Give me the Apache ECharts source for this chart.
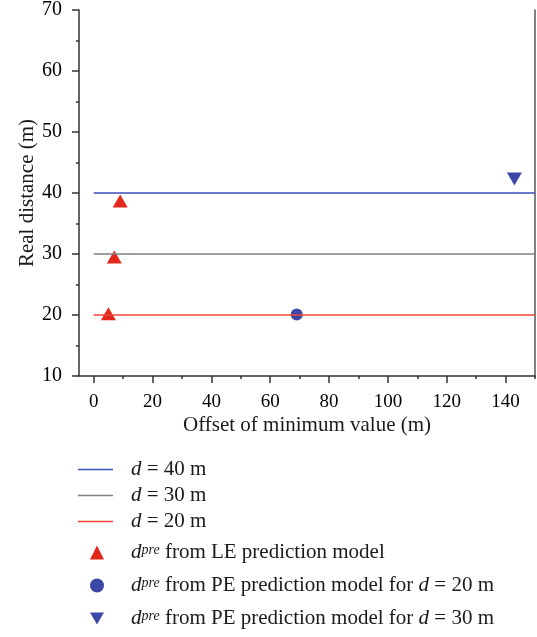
<!DOCTYPE html>
<html>
<head>
<meta charset="utf-8">
<script src="https://cdn.jsdelivr.net/npm/echarts@6/dist/echarts.min.js"></script>
<style>html,body{margin:0;padding:0;background:#fff}#c{width:537px;height:637px}</style>
</head>
<body>
<div id="c"></div>
<script>
const xTicks = [0, 20, 40, 60, 80, 100, 120, 140];
const xMinor = [10, 30, 50, 70, 90, 110, 130, 150];
const refLineX = [0, 150];
const refDistances = [40, 30, 20];
const refNames = ['d = 40 m', 'd = 30 m', 'd = 20 m'];
const leX = [5, 7, 9];
const leY = [20.2, 29.5, 38.7];
const pe20 = [[69, 20.1]];
const pe30 = [[143, 42.3]];
const markerNames = ['LE', 'PE20', 'PE30'];
const markerLabels = {
  LE: ' from LE prediction model',
  PE20: ' from PE prediction model for ',
  PE30: ' from PE prediction model for '
};
const markerTail = { LE: '', PE20: ' = 20 m', PE30: ' = 30 m' };

const FONT = 'Liberation Serif';
const TXT = '#1a1a1a';
const lineColors = ['#3a4db8', '#808080', '#f0453a'];
const chart = echarts.init(document.getElementById('c'));

const series = [];
refDistances.forEach((d, i) => {
  series.push({
    name: refNames[i], type: 'line', symbol: 'none', silent: true,
    data: refLineX.map(x => [x, d]),
    lineStyle: { color: lineColors[i], width: 1.5 },
    itemStyle: { color: lineColors[i] }
  });
});
series.push({
  name: 'LE', type: 'scatter', symbol: 'triangle', symbolSize: [15, 13],
  data: leX.map((x, i) => [x, leY[i]]),
  itemStyle: { color: '#e2281d', opacity: 1 }
});
series.push({
  name: 'PE20', type: 'scatter', symbol: 'circle', symbolSize: 12,
  data: pe20, itemStyle: { color: '#3c48a8', opacity: 1 }
});
series.push({
  name: 'PE30', type: 'scatter', symbol: 'triangle', symbolRotate: 180, symbolSize: [15, 13],
  data: pe30, itemStyle: { color: '#3c48a8', opacity: 1 }
});

const rich = {
  i: { fontFamily: FONT, fontStyle: 'italic', fontSize: 21, lineHeight: 18, color: TXT },
  n: { fontFamily: FONT, fontSize: 21, lineHeight: 18, color: TXT },
  s: { fontFamily: FONT, fontStyle: 'italic', fontSize: 14, lineHeight: 10, verticalAlign: 'top', color: TXT }
};
const lineIcon = 'path://M0,0h35v1.5h-35z';
const tickLabel = (size) => ({ fontFamily: FONT, fontSize: size, color: '#000', fontWeight: 'normal' });

chart.setOption({
  animation: false,
  textStyle: { fontFamily: FONT, color: TXT },
  grid: { left: 79, right: 2, top: 8, bottom: 261, containLabel: false },
  xAxis: [{
    type: 'value', min: -5, max: 150,
    name: 'Offset of minimum value (m)', nameLocation: 'middle', nameGap: 39, nameMoveOverlap: false,
    nameTextStyle: { fontFamily: FONT, fontSize: 21, color: TXT },
    axisLine: { show: true, onZero: false, lineStyle: { color: '#333', width: 1.5 } },
    axisTick: { show: true, length: 7, customValues: xTicks, lineStyle: { color: '#333', width: 1.5 } },
    axisLabel: Object.assign({ customValues: xTicks, margin: 17 }, tickLabel(19)),
    splitLine: { show: false }
  }, {
    type: 'value', min: -5, max: 150, position: 'bottom',
    axisLine: { show: false, onZero: false },
    axisTick: { show: true, length: 3, customValues: xMinor, lineStyle: { color: '#333', width: 1.5 } },
    axisLabel: { show: false, customValues: xMinor },
    splitLine: { show: false }
  }],
  yAxis: [{
    type: 'value', min: 10, max: 70, interval: 10,
    name: 'Real distance (m)', nameLocation: 'middle', nameGap: 41, nameMoveOverlap: false,
    nameTextStyle: { fontFamily: FONT, fontSize: 21, color: TXT },
    axisLine: { show: true, onZero: false, lineStyle: { color: '#333', width: 1.5 } },
    axisTick: { show: true, length: 7, lineStyle: { color: '#333', width: 1.5 } },
    minorTick: { show: true, splitNumber: 2, length: 3, lineStyle: { color: '#333', width: 1.5 } },
    axisLabel: Object.assign({ margin: 17 }, tickLabel(20)),
    splitLine: { show: false }
  }, {
    type: 'value', min: 10, max: 70, position: 'right',
    axisLine: { show: true, onZero: false, lineStyle: { color: '#555', width: 1.5 } },
    axisTick: { show: false }, axisLabel: { show: false }, splitLine: { show: false }
  }],
  legend: [{
    orient: 'vertical', left: 78, top: 459, padding: 0, itemWidth: 35, itemHeight: 14, itemGap: 5,
    data: refNames.map(n => ({ name: n, icon: lineIcon })),
    formatter: n => '{i|d}{n|' + n.slice(1) + '}',
    textStyle: { fontFamily: FONT, fontSize: 21, color: TXT, padding: [0, 0, 0, 13], rich: rich },
    selectedMode: false
  }, {
    orient: 'vertical', left: 90, top: 542, padding: 0, itemWidth: 14, itemHeight: 14, itemGap: 12,
    data: [
      { name: 'LE', icon: 'triangle' },
      { name: 'PE20', icon: 'circle' },
      { name: 'PE30', icon: 'path://M0,0L2,0L1,1.7Z' }
    ],
    formatter: n => '{i|d}{s|pre}{n|' + markerLabels[n] + '}' + (markerTail[n] ? '{i|d}{n|' + markerTail[n] + '}' : ''),
    textStyle: { fontFamily: FONT, fontSize: 21, color: TXT, padding: [0, 0, 0, 22], rich: rich },
    selectedMode: false
  }],
  series: series
});
</script>
</body>
</html>
